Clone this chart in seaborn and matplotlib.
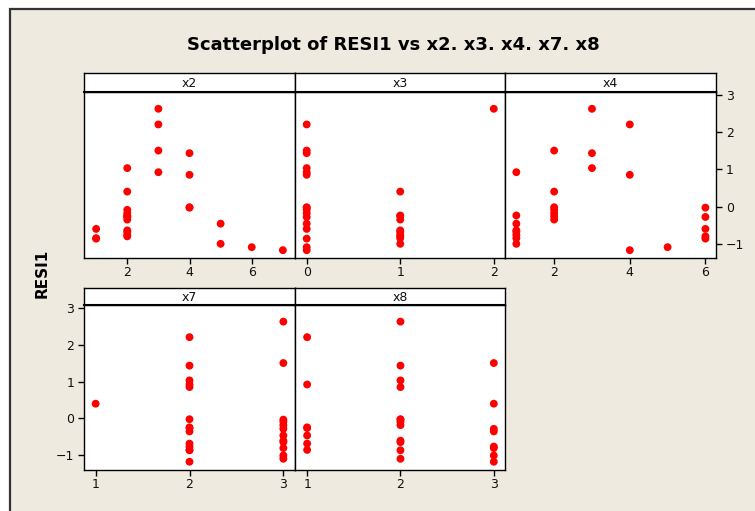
import numpy as np
import pandas as pd
import matplotlib
matplotlib.use("Agg")
import matplotlib.pyplot as plt
from matplotlib.patches import Rectangle
import seaborn as sns

sns.set_style("white")
plt.rcParams['font.family'] = ['DejaVu Sans']

# ---- data ----
RESI1 = [2.62, 2.20, 1.50, 1.43, 1.03, 0.92, 0.85, 0.40,
         -0.02, -0.09, -0.18, -0.26, -0.35, -0.24, -0.46, -0.64, -0.68,
         -0.76, -0.85, -1.00, -1.17, -1.09, -0.03, -0.28, -0.60, -0.80, -0.86]
x2 = [3, 3, 3, 4, 2, 3, 4, 2,
      4, 2, 2, 2, 2, 2, 5, 2, 2,
      2, 1, 5, 7, 6, 4, 2, 1, 2, 1]
x3 = [2, 0, 0, 0, 0, 0, 0, 1,
      0, 0, 0, 1, 1, 1, 0, 1, 1,
      1, 1, 1, 0, 0, 0, 0, 0, 1, 0]
x4 = [3, 4, 2, 3, 3, 1, 4, 2,
      2, 2, 2, 2, 2, 1, 1, 1, 1,
      1, 1, 1, 4, 5, 6, 6, 6, 6, 6]
x7 = [3, 2, 3, 2, 2, 2, 2, 1,
      2, 3, 3, 2, 2, 2, 3, 3, 2,
      2, 2, 3, 2, 3, 3, 3, 3, 3, 2]
x8 = [2, 1, 3, 2, 2, 1, 2, 3,
      2, 2, 2, 1, 3, 1, 1, 2, 1,
      3, 1, 3, 3, 2, 2, 3, 2, 3, 2]

panel_names = ["x2", "x3", "x4", "x7", "x8"]
x_ticks = {"x2": [2, 4, 6], "x3": [0, 1, 2], "x4": [2, 4, 6], "x7": [1, 2, 3], "x8": [1, 2, 3]}
y_ticks = [-1, 0, 1, 2, 3]

df = pd.DataFrame({"RESI1": RESI1, "x2": x2, "x3": x3, "x4": x4, "x7": x7, "x8": x8})

# ---- layout ----
W, H = 755, 511
fig = plt.figure(figsize=(W / 100, H / 100), dpi=100)
fig.patch.set_facecolor("white")

bg = "#EEEAE0"
bgax = fig.add_axes([0, 0, 1, 1], zorder=-10)
bgax.set_axis_off()
bgax.set_xlim(0, W)
bgax.set_ylim(H, 0)
bgax.add_patch(Rectangle((10, 9), W + 10, H + 10, facecolor=bg, edgecolor="#333333",
                         linewidth=1.6))


def fr(l, t, r, b):
    return [l / W, 1 - b / H, (r - l) / W, (b - t) / H]


panels = {
    "x2": (84, 92, 295, 258, 73),
    "x3": (295, 92, 505, 258, 73),
    "x4": (505, 92, 716, 258, 73),
    "x7": (84, 305, 295, 469.5, 288),
    "x8": (295, 305, 505, 469.5, 288),
}
xlims = {"x2": (0.61, 7.39), "x3": (-0.125, 2.12), "x4": (0.70, 6.28),
         "x7": (0.876, 3.124), "x8": (0.87, 3.12)}
ylim = (-1.38, 3.07)

for name in panel_names:
    l, t, r, b, st = panels[name]
    ax = fig.add_axes(fr(l, t, r, b))
    ax.set_facecolor("white")
    sns.scatterplot(data=df, x=name, y="RESI1", ax=ax, color="#FF0000", s=32,
                    edgecolor="none", linewidth=0, legend=False, zorder=3)
    ax.set_xlim(*xlims[name])
    ax.set_ylim(*ylim)
    ax.set_xticks(x_ticks[name])
    ax.set_xlabel("")
    ax.set_ylabel("")
    for sp in ax.spines.values():
        sp.set_visible(True)
        sp.set_color("black")
        sp.set_linewidth(1.0)
    ax.tick_params(axis="x", direction="out", length=4, width=1, color="black",
                   labelsize=9, pad=2, bottom=True, labelcolor="#111111")
    if name == "x4":
        ax.set_yticks(y_ticks)
        ax.yaxis.tick_right()
        ax.tick_params(axis="y", direction="out", length=4, width=1, color="black",
                       labelsize=9, pad=3, right=True, labelcolor="#111111")
    elif name == "x7":
        ax.set_yticks(y_ticks)
        ax.tick_params(axis="y", direction="out", length=4, width=1, color="black",
                       labelsize=9, pad=3, left=True, labelcolor="#111111")
    else:
        ax.set_yticks([])
    # strip
    sax = fig.add_axes(fr(l, st, r, t))
    sax.set_facecolor("white")
    sax.set_xticks([])
    sax.set_yticks([])
    for sp in sax.spines.values():
        sp.set_visible(True)
        sp.set_color("black")
        sp.set_linewidth(1.0)
    sax.spines["bottom"].set_linewidth(1.5)
    sax.text(0.5, 0.45, name, ha="center", va="center", fontsize=9, color="#111111",
             transform=sax.transAxes)

fig.text(393 / W, 1 - 45 / H, "Scatterplot of RESI1 vs x2. x3. x4. x7. x8",
         ha="center", va="center", fontsize=13, fontweight="bold", color="black")
fig.text(42 / W, 1 - 273 / H, "RESI1", ha="center", va="center", rotation=90,
         fontsize=11, fontweight="bold", color="black")

fig.savefig("out.png", dpi=100, facecolor=fig.get_facecolor())
